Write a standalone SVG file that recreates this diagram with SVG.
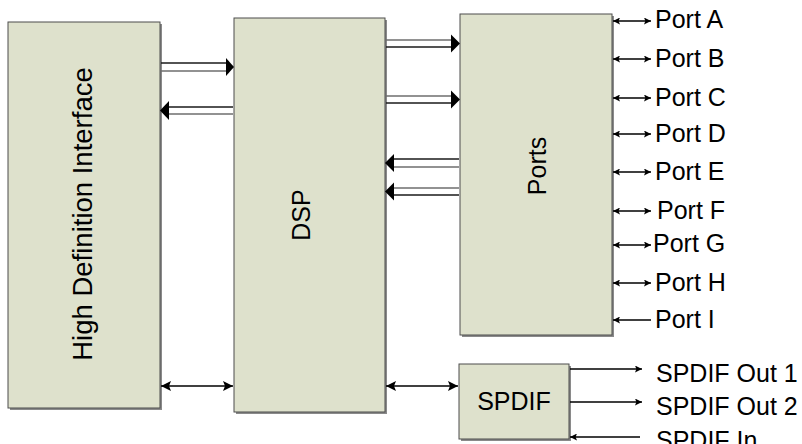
<svg xmlns="http://www.w3.org/2000/svg" width="802" height="444" viewBox="0 0 802 444">
<defs>
<style>
.box{fill:#dee1cc;stroke:#4d4d4d;stroke-width:1}
.shadow{fill:#8a8a8a}
.lbl{font-family:"Liberation Sans",Arial,sans-serif;font-size:25px;fill:#000}
.big{font-size:27.5px}
.ln{stroke:#000;stroke-width:1.3;fill:none}
.ln2{stroke:#6e6e6e;stroke-width:1.6;fill:none}
.ln3{stroke:#1a1a1a;stroke-width:1.6;fill:none}
.head{fill:#000}
</style>
<marker id="sa" viewBox="0 0 10 10" refX="10" refY="5" markerWidth="9" markerHeight="7" markerUnits="userSpaceOnUse" orient="auto-start-reverse">
<path d="M0,0 L10,5 L0,10 L2,5 Z" fill="#000"/>
</marker>
<marker id="ba" viewBox="0 0 10 10" refX="10" refY="5" markerWidth="10" markerHeight="10" markerUnits="userSpaceOnUse" orient="auto-start-reverse">
<path d="M0,0 L10,5 L0,10 L2,5 Z" fill="#000"/>
</marker>
</defs>
<rect width="802" height="444" fill="#fff"/>

<g id="hdi">
<rect class="shadow" x="10" y="24" width="152" height="386"/>
<rect class="box" x="8" y="22" width="152" height="386"/>
<text class="lbl big" transform="translate(92,214) rotate(-90)" text-anchor="middle">High Definition Interface</text>
</g>

<g id="dsp">
<rect class="shadow" x="236" y="20" width="151" height="394"/>
<rect class="box" x="234" y="18" width="151" height="394"/>
<text class="lbl" transform="translate(310,215) rotate(-90)" text-anchor="middle">DSP</text>
</g>

<g id="ports">
<rect class="shadow" x="462" y="16" width="152" height="321"/>
<rect class="box" x="460" y="14" width="152" height="321"/>
<text class="lbl" transform="translate(546,166) rotate(-90)" text-anchor="middle">Ports</text>
</g>

<g id="spdif">
<rect class="shadow" x="461" y="366" width="110" height="75"/>
<rect class="box" x="459" y="364" width="110" height="75"/>
<text class="lbl" x="514" y="410" text-anchor="middle">SPDIF</text>
</g>

<g id="connectors">
<line class="ln3" x1="161" y1="63" x2="227" y2="63"/>
<line class="ln2" x1="161" y1="71" x2="227" y2="71"/>
<path class="head" d="M226,58 L234,67 L226,76 Z"/>
<line class="ln3" x1="168" y1="107" x2="233" y2="107"/>
<line class="ln2" x1="168" y1="114" x2="233" y2="114"/>
<path class="head" d="M169,101 L160,110.5 L169,120 Z"/>
<line class="ln2" x1="386" y1="40" x2="452" y2="40"/>
<line class="ln3" x1="386" y1="47" x2="452" y2="47"/>
<path class="head" d="M451,34.5 L460,43.5 L451,52.5 Z"/>
<line class="ln2" x1="386" y1="96" x2="452" y2="96"/>
<line class="ln3" x1="386" y1="103" x2="452" y2="103"/>
<path class="head" d="M451,90.5 L460,99.5 L451,108.5 Z"/>
<line class="ln3" x1="393" y1="159" x2="459" y2="159"/>
<line class="ln2" x1="393" y1="167" x2="459" y2="167"/>
<path class="head" d="M394,154 L385,163 L394,172 Z"/>
<line class="ln2" x1="393" y1="188" x2="459" y2="188"/>
<line class="ln3" x1="393" y1="195" x2="459" y2="195"/>
<path class="head" d="M394,182.5 L385,191.5 L394,200.5 Z"/>
<line class="ln" x1="161" y1="386" x2="233" y2="386" marker-start="url(#ba)" marker-end="url(#ba)"/>
<line class="ln" x1="386" y1="386" x2="458" y2="386" marker-start="url(#ba)" marker-end="url(#ba)"/>
<line class="ln" x1="613" y1="21" x2="651" y2="21" marker-start="url(#sa)" marker-end="url(#sa)"/>
<line class="ln" x1="613" y1="59" x2="651" y2="59" marker-start="url(#sa)" marker-end="url(#sa)"/>
<line class="ln" x1="613" y1="98" x2="651" y2="98" marker-start="url(#sa)" marker-end="url(#sa)"/>
<line class="ln" x1="613" y1="134" x2="651" y2="134" marker-start="url(#sa)" marker-end="url(#sa)"/>
<line class="ln" x1="613" y1="172" x2="651" y2="172" marker-start="url(#sa)" marker-end="url(#sa)"/>
<line class="ln" x1="613" y1="211" x2="651" y2="211" marker-start="url(#sa)" marker-end="url(#sa)"/>
<line class="ln" x1="613" y1="245" x2="651" y2="245" marker-start="url(#sa)" marker-end="url(#sa)"/>
<line class="ln" x1="613" y1="283" x2="651" y2="283" marker-start="url(#sa)" marker-end="url(#sa)"/>
<line class="ln" x1="613" y1="320" x2="651" y2="320" marker-start="url(#sa)"/>
<line class="ln" x1="570" y1="369" x2="642" y2="369" marker-end="url(#sa)"/>
<line class="ln" x1="570" y1="402" x2="642" y2="402" marker-end="url(#sa)"/>
<line class="ln" x1="570" y1="437" x2="640" y2="437" marker-start="url(#sa)"/>
</g>

<g id="port-labels">
<text class="lbl" x="655" y="28">Port A</text>
<text class="lbl" x="655" y="67">Port B</text>
<text class="lbl" x="655" y="106">Port C</text>
<text class="lbl" x="655" y="142">Port D</text>
<text class="lbl" x="655" y="180">Port E</text>
<text class="lbl" x="657" y="219">Port F</text>
<text class="lbl" x="653" y="252">Port G</text>
<text class="lbl" x="655" y="291">Port H</text>
<text class="lbl" x="655" y="328">Port I</text>
<text class="lbl" x="656" y="382">SPDIF Out 1</text>
<text class="lbl" x="656" y="415">SPDIF Out 2</text>
<text class="lbl" x="656" y="449">SPDIF In</text>
</g>
</svg>
